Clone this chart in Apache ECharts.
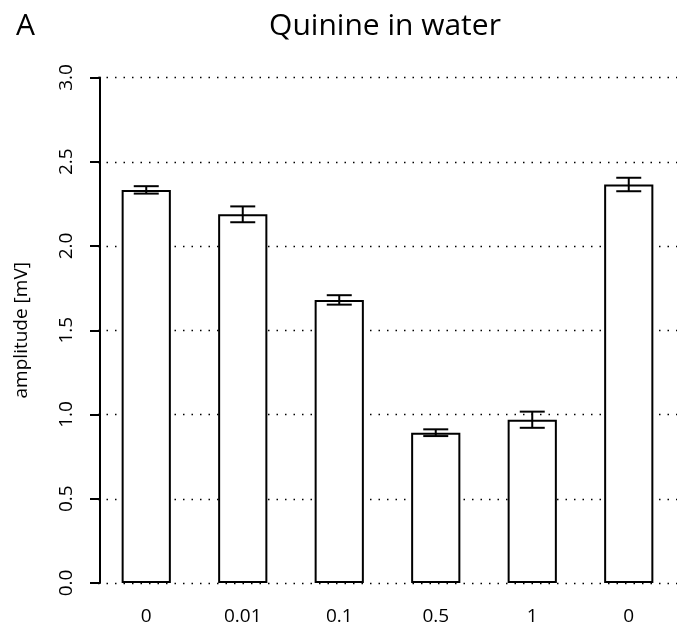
<!DOCTYPE html>
<html>
<head>
<meta charset="utf-8">
<script src="https://cdn.jsdelivr.net/npm/echarts@6/dist/echarts.min.js"></script>
<style>html,body{margin:0;padding:0;background:#fff;}#c{width:677px;height:629px;}</style>
</head>
<body>
<div id="c"></div>
<script>
var categories = ['0', '0.01', '0.1', '0.5', '1', '0'];
var amplitude = [2.333, 2.188, 1.680, 0.892, 0.969, 2.365];
var errorHalf = [0.022, 0.047, 0.028, 0.020, 0.048, 0.040];
var yTicks = [0, 0.5, 1.0, 1.5, 2.0, 2.5, 3.0];

var FONT = 'Open Sans';
var chart = echarts.init(document.getElementById('c'));
var errData = amplitude.map(function (v, i) { return [i, v - errorHalf[i], v + errorHalf[i]]; });

chart.setOption({
  animation: false,
  backgroundColor: '#fff',
  title: [
    { text: 'Quinine in water', left: 380, top: 6, textAlign: 'center',
      textStyle: { fontFamily: FONT, fontSize: 30, fontWeight: 'normal', color: '#000' } },
    { text: 'A', left: 11, top: 6,
      textStyle: { fontFamily: FONT, fontSize: 30, fontWeight: 'normal', color: '#000' } }
  ],
  grid: { left: 98, right: 0, top: 77.5, bottom: 46, containLabel: false },
  xAxis: {
    type: 'category', data: categories, boundaryGap: true,
    axisLine: { show: false }, axisTick: { show: false },
    axisLabel: { margin: 24, fontFamily: FONT, fontSize: 19, color: '#000' },
    splitLine: { show: false }
  },
  yAxis: {
    type: 'value', min: yTicks[0], max: yTicks[yTicks.length - 1], interval: 0.5, offset: -2,
    name: 'amplitude [mV]', nameLocation: 'middle', nameRotate: 90, nameGap: 69,
    nameTextStyle: { fontFamily: FONT, fontSize: 19, color: '#000' },
    axisLine: { show: true, lineStyle: { color: '#000', width: 2 } },
    axisTick: { show: true, length: 10, inside: false, lineStyle: { color: '#000', width: 2 } },
    axisLabel: { rotate: 90, margin: 24, fontFamily: FONT, fontSize: 19, color: '#000',
      formatter: function (v) { return v.toFixed(1); } },
    splitLine: { show: true, lineStyle: { color: '#000', width: 1.3, type: [1.5, 7] } }
  },
  series: [
    {
      type: 'bar', data: amplitude, barWidth: '51%',
      itemStyle: { color: '#fff', borderColor: '#000', borderWidth: 2 },
      z: 2
    },
    {
      type: 'custom', data: errData, z: 3,
      renderItem: function (params, api) {
        var x = api.value(0);
        var lo = api.coord([x, api.value(1)]);
        var hi = api.coord([x, api.value(2)]);
        var hw = 12.5;
        var st = { stroke: '#000', lineWidth: 2 };
        return { type: 'group', children: [
          { type: 'line', shape: { x1: lo[0], y1: lo[1], x2: hi[0], y2: hi[1] }, style: st },
          { type: 'line', shape: { x1: lo[0] - hw, y1: lo[1], x2: lo[0] + hw, y2: lo[1] }, style: st },
          { type: 'line', shape: { x1: hi[0] - hw, y1: hi[1], x2: hi[0] + hw, y2: hi[1] }, style: st }
        ] };
      }
    }
  ]
});
</script>
</body>
</html>
